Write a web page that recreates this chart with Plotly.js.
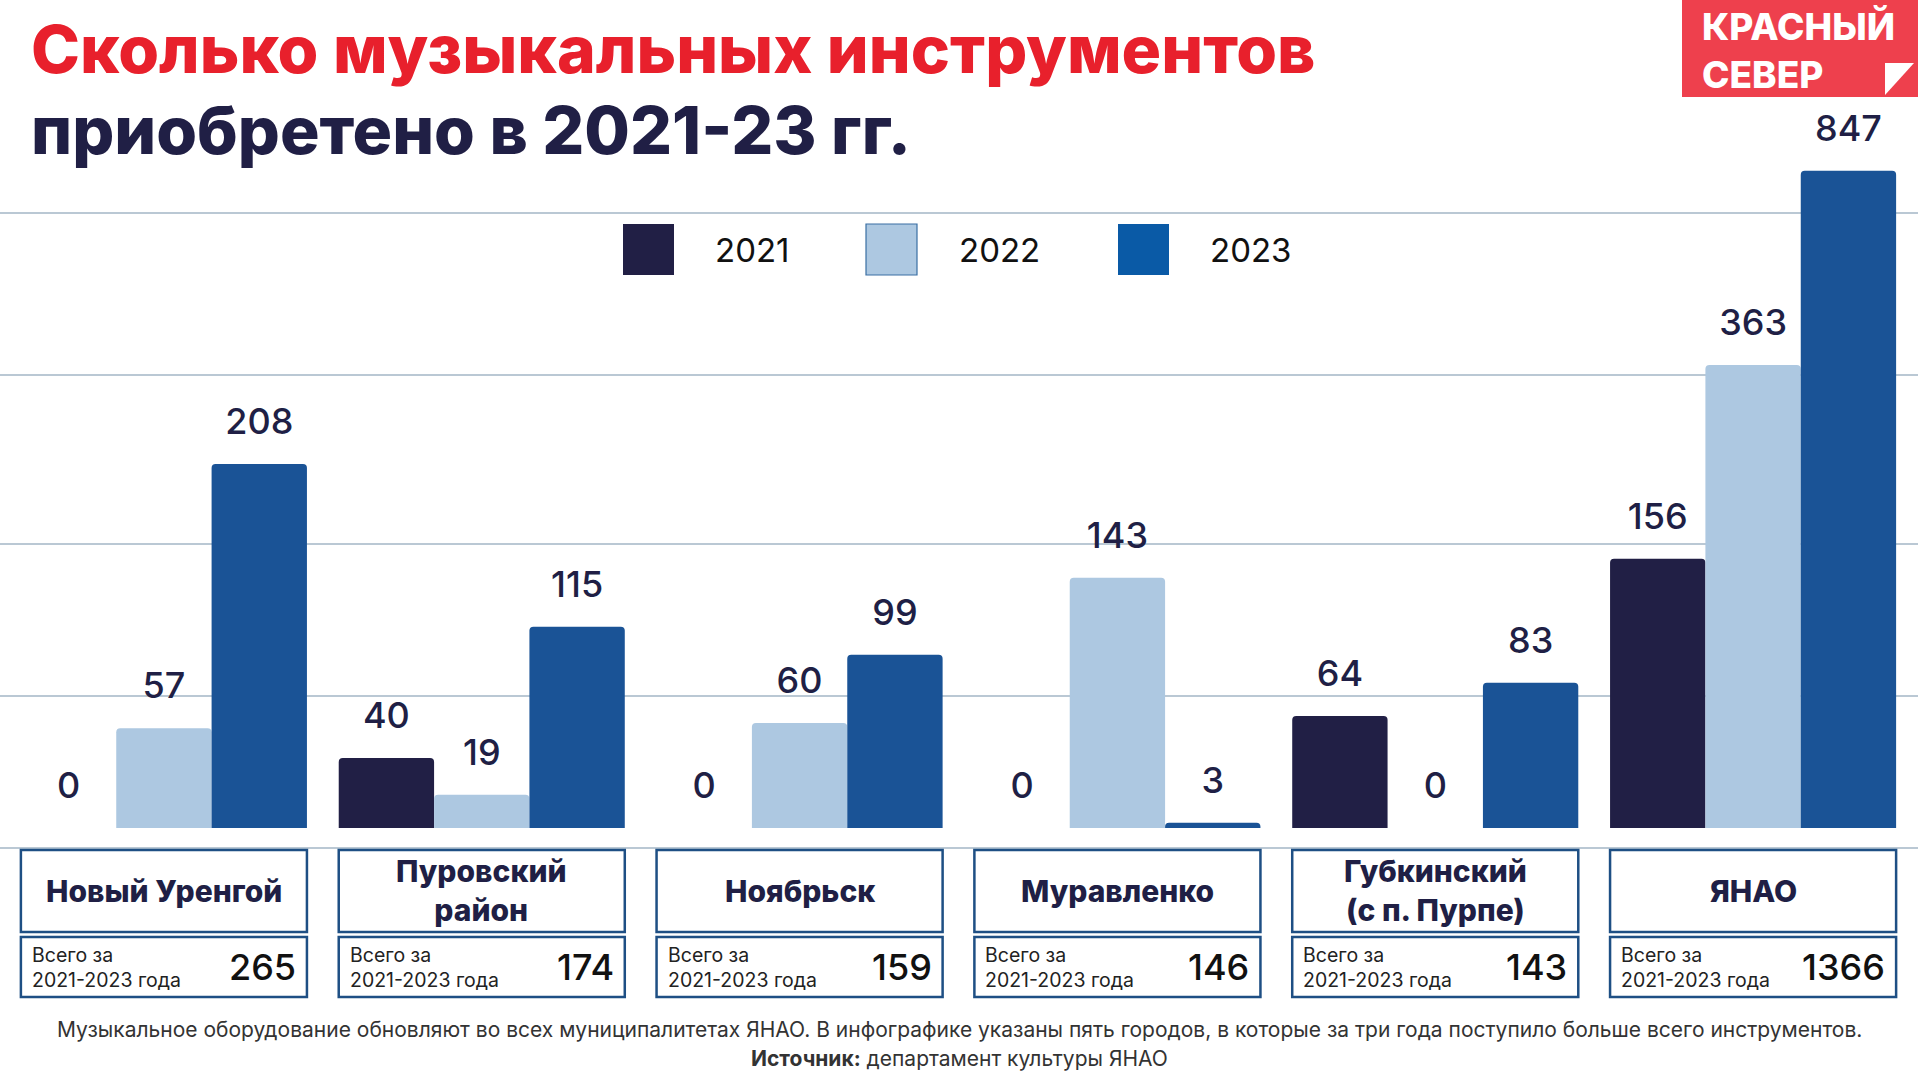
<!DOCTYPE html>
<html><head><meta charset="utf-8">
<script src="https://cdn.plot.ly/plotly-3.0.1.min.js"></script>
<style>html,body{margin:0;padding:0;background:#fff;overflow:hidden}#chart{width:1918px;height:1079px;}</style>
</head><body><div id="chart"></div>
<script>
// ---------- data ----------
const categories = ["Новый Уренгой", "Пуровский<br>район", "Ноябрьск", "Муравленко", "Губкинский<br>(с п. Пурпе)", "ЯНАО"];
const years = ["2021", "2022", "2023"];
const values2021 = [0, 40, 0, 0, 64, 156];
const values2022 = [57, 19, 60, 143, 0, 363];
const values2023 = [208, 115, 99, 3, 83, 847];
const totals = [265, 174, 159, 146, 143, 1366];
const totalCaption = "Всего за<br>2021-2023 года";
const titleLine1 = "Сколько музыкальных инструментов";
const titleLine2 = "приобретено в 2021-23 гг.";
const logoText = "КРАСНЫЙ<br>СЕВЕР";
const footnote = "Музыкальное оборудование обновляют во всех муниципалитетах ЯНАО. В инфографике указаны пять городов, в которые за три года поступило больше всего инструментов.";
const sourceNote = "<b>Источник:</b> департамент культуры ЯНАО";

// ---------- style ----------
const colors = ["#211f45", "#adc8e1", "#1a5396"];
const legendColors = ["#211f45", "#adc8e1", "#0a5aa6"];
const navy = "#201f45";
const FONT = "Inter, 'Noto Sans', sans-serif";
const W = 1918, H = 1079;
const M = {l: 5, r: 6, t: 100, b: 251};
const PW = W - M.l - M.r, PH = H - M.t - M.b;
const px2x = p => (p - M.l) / PW;
const px2y = p => (H - M.b - p) / PH;

const series = [values2021, values2022, values2023];
const idx = categories.map((c, i) => i);
const nCity = categories.length - 1;  // last category (region total) drawn on its own log axis
const barW = 0.3;

const traces = [];
series.forEach((vals, j) => {
  const off = -0.45 + barW * j;
  traces.push({type: "bar", x: idx.slice(0, nCity), y: vals.slice(0, nCity), width: barW, offset: off,
    marker: {color: colors[j], cornerradius: 4}, yaxis: "y", showlegend: false, hoverinfo: "skip"});
  traces.push({type: "bar", x: idx.slice(nCity), y: vals.slice(nCity), width: barW, offset: off,
    marker: {color: colors[j], cornerradius: 4}, yaxis: "y2", showlegend: false, hoverinfo: "skip"});
});
series.forEach((vals, j) => {
  const sh = -0.3 + barW * j;
  const common = {type: "scatter", mode: "markers+text", textposition: "top center", cliponaxis: false,
    marker: {size: 32, opacity: 0}, textfont: {family: FONT, size: 36, color: navy, weight: 500},
    showlegend: false, hoverinfo: "skip"};
  traces.push(Object.assign({}, common, {x: idx.slice(0, nCity).map(i => i + sh), y: vals.slice(0, nCity),
    text: vals.slice(0, nCity).map(String), yaxis: "y"}));
  traces.push(Object.assign({}, common, {x: idx.slice(nCity).map(i => i + sh), y: vals.slice(nCity),
    text: vals.slice(nCity).map(String), yaxis: "y2"}));
});

const shapes = [];
const annotations = [];

// decorative horizontal rules
[213, 375, 544, 696, 848].forEach(p => {
  shapes.push({type: "line", xref: "paper", yref: "paper", x0: px2x(0), x1: px2x(W), y0: px2y(p), y1: px2y(p),
    line: {color: "#a3b6c6", width: 1.5}, layer: "below"});
});

// category boxes
const boxLine = {color: "#1e4f84", width: 2.5};
categories.forEach((name, i) => {
  shapes.push({type: "rect", xref: "x", yref: "paper", x0: i - 0.45, x1: i + 0.45, y0: px2y(850), y1: px2y(932),
    line: boxLine, fillcolor: "#fff"});
  shapes.push({type: "rect", xref: "x", yref: "paper", x0: i - 0.45, x1: i + 0.45, y0: px2y(937), y1: px2y(997),
    line: boxLine, fillcolor: "#fff"});
  annotations.push({xref: "x", yref: "paper", x: i, y: px2y(891), text: name,
    showarrow: false, xanchor: "center", yanchor: "middle", align: "center",
    font: {family: FONT, size: 30, color: navy, weight: 800}});
  annotations.push({xref: "x", yref: "paper", x: i - 0.45, xshift: 9, y: px2y(967), text: totalCaption,
    showarrow: false, xanchor: "left", yanchor: "middle", align: "left",
    font: {family: FONT, size: 19.5, color: "#222"}});
  annotations.push({xref: "x", yref: "paper", x: i + 0.45, xshift: -9, y: px2y(967), text: String(totals[i]),
    showarrow: false, xanchor: "right", yanchor: "middle",
    font: {family: FONT, size: 36, color: "#111", weight: 500}});
});

// legend
const legSq = [623, 866, 1118];
const legTx = [713, 957, 1208];
years.forEach((y, j) => {
  shapes.push({type: "rect", xref: "paper", yref: "paper", x0: px2x(legSq[j]), x1: px2x(legSq[j] + 51),
    y0: px2y(224), y1: px2y(275), fillcolor: legendColors[j],
    line: {color: j === 1 ? "#3a6fa3" : legendColors[j], width: j === 1 ? 1.2 : 0}});
  annotations.push({xref: "paper", yref: "paper", x: px2x(legTx[j]), y: px2y(250), text: y, showarrow: false,
    xanchor: "left", yanchor: "middle", font: {family: FONT, size: 33, color: "#111"}});
});

// title
annotations.push({xref: "paper", yref: "paper", x: px2x(29), y: px2y(49), text: titleLine1, showarrow: false,
  xanchor: "left", yanchor: "middle", font: {family: FONT, size: 66, color: "#e8202c", weight: 800}});
annotations.push({xref: "paper", yref: "paper", x: px2x(29), y: px2y(130), text: titleLine2, showarrow: false,
  xanchor: "left", yanchor: "middle", font: {family: FONT, size: 66, color: navy, weight: 800}});

// logo
shapes.push({type: "rect", xref: "paper", yref: "paper", x0: px2x(1682), x1: px2x(W + 2), y0: px2y(-2), y1: px2y(97),
  fillcolor: "#ee404d", line: {width: 0}});
shapes.push({type: "path", xref: "paper", yref: "paper",
  path: `M ${px2x(1885)},${px2y(63)} L ${px2x(1914)},${px2y(63)} L ${px2x(1885)},${px2y(95)} Z`,
  fillcolor: "#fff", line: {width: 0}});
annotations.push({xref: "paper", yref: "paper", x: px2x(1700), y: px2y(50), text: logoText, showarrow: false,
  xanchor: "left", yanchor: "middle", align: "left",
  font: {family: FONT, size: 37, color: "#fff", weight: 800}});

// footer
annotations.push({xref: "paper", yref: "paper", x: px2x(959), y: px2y(1029), text: footnote, showarrow: false,
  xanchor: "center", yanchor: "middle", font: {family: FONT, size: 21, color: "#333"}});
annotations.push({xref: "paper", yref: "paper", x: px2x(959), y: px2y(1058), text: sourceNote, showarrow: false,
  xanchor: "center", yanchor: "middle", font: {family: FONT, size: 21, color: "#333"}});

const hidden = {showgrid: false, zeroline: false, showticklabels: false, showline: false, ticks: "", fixedrange: true};
const layout = {
  width: W, height: H, margin: M, paper_bgcolor: "#fff", plot_bgcolor: "rgba(0,0,0,0)",
  showlegend: false, hovermode: false, barmode: "overlay",
  xaxis: Object.assign({}, hidden, {type: "linear", range: [-0.5, categories.length - 0.5]}),
  yaxis: Object.assign({}, hidden, {type: "linear", range: [0, PH / 1.75]}),
  yaxis2: Object.assign({}, hidden, {type: "log", overlaying: "y", side: "right", range: [1.683, 1.683 + PH / 528]}),
  shapes: shapes, annotations: annotations,
  font: {family: FONT}
};
Plotly.newPlot("chart", traces, layout, {displayModeBar: false, staticPlot: true});
</script>
</body></html>
